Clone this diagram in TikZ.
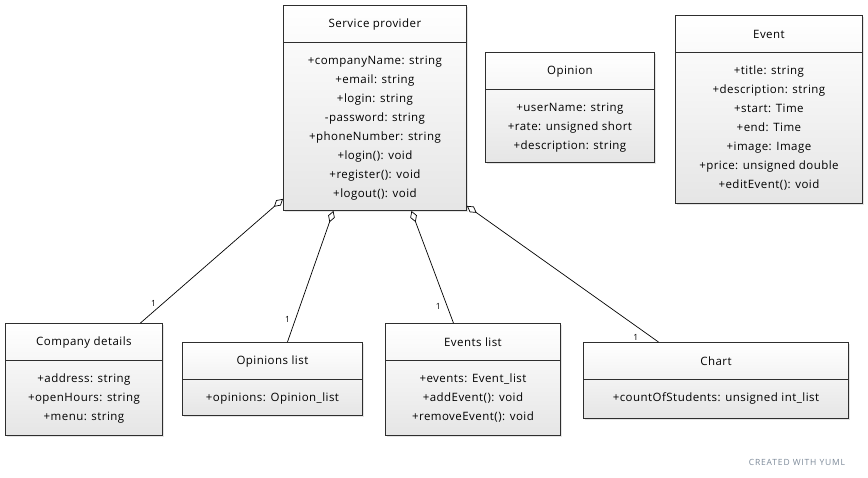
\documentclass[tikz,border=0pt]{standalone}
\usepackage{fontspec}
\setmainfont{Open Sans}
\usepackage{tikz}
\usetikzlibrary{arrows.meta, shadows, positioning, calc}
\definecolor{boxline}{HTML}{2E2E2E}
\definecolor{yumlgray}{HTML}{7D8A99}
\tikzset{
	classbox/.style = {draw = boxline, line width = 0.9pt, top color = white, bottom color = black!10, drop shadow = {opacity = 0.2, shadow xshift = 2pt, shadow yshift = -2pt}, anchor = north west, inner sep = 0pt},
	classtitle/.style = {font = \fontsize{11.5}{12}\selectfont\addfontfeature{LetterSpace = 4}, inner sep = 0pt},
	classbody/.style = {font = \fontsize{11.5}{19}\selectfont\addfontfeature{LetterSpace = 4}, align = center, inner sep = 0pt, anchor = north},
	classline/.style = {draw = boxline, line width = 0.9pt},
	aggr/.style = {{Diamond[open, length = 12pt, width = 7pt]}-, line width = 0.7pt},
	mult/.style = {font = \fontsize{8.5}{10}\selectfont, inner sep = 0pt}
}
\begin{document}
\begin{tikzpicture}[x = 1pt, y = -1pt]
		\useasboundingbox[fill = white] (0,0) rectangle (868,478);
		% service provider
		\node[classbox, minimum width = 183pt, minimum height = 205pt] (sp) at (283,5) {};
		\node[classtitle] (spTitle) at ([yshift = -19.5pt]sp.north) {Service provider};
		\draw[classline] ([yshift = -37pt]sp.north west) -- ([yshift = -37pt]sp.north east);
		\node[classbody] (spBody) at ([yshift = -50.5pt]sp.north) {+companyName: string\\+email: string\\+login: string\\-password: string\\+phoneNumber: string\\+login(): void\\+register(): void\\+logout(): void};
		% opinion
		\node[classbox, minimum width = 169pt, minimum height = 110pt] (op) at (485,52) {};
		\node[classtitle] (opTitle) at ([yshift = -19.5pt]op.north) {Opinion};
		\draw[classline] ([yshift = -37pt]op.north west) -- ([yshift = -37pt]op.north east);
		\node[classbody] (opBody) at ([yshift = -50.5pt]op.north) {+userName: string\\+rate: unsigned short\\+description: string};
		% event
		\node[classbox, minimum width = 187pt, minimum height = 188pt] (ev) at (675,15) {};
		\node[classtitle] (evTitle) at ([yshift = -19.5pt]ev.north) {Event};
		\draw[classline] ([yshift = -37pt]ev.north west) -- ([yshift = -37pt]ev.north east);
		\node[classbody] (evBody) at ([yshift = -50.5pt]ev.north) {+title: string\\+description: string\\+start: Time\\+end: Time\\+image: Image\\+price: unsigned double\\+editEvent(): void};
		% company details
		\node[classbox, minimum width = 157pt, minimum height = 112pt] (cd) at (5,323) {};
		\node[classtitle] (cdTitle) at ([yshift = -19.5pt]cd.north) {Company details};
		\draw[classline] ([yshift = -37pt]cd.north west) -- ([yshift = -37pt]cd.north east);
		\node[classbody] (cdBody) at ([yshift = -50.5pt]cd.north) {+address: string\\+openHours: string\\+menu: string};
		% opinions list
		\node[classbox, minimum width = 180pt, minimum height = 73pt] (ol) at (182,342) {};
		\node[classtitle] (olTitle) at ([yshift = -19.5pt]ol.north) {Opinions list};
		\draw[classline] ([yshift = -37pt]ol.north west) -- ([yshift = -37pt]ol.north east);
		\node[classbody] (olBody) at ([yshift = -50.5pt]ol.north) {+opinions: Opinion\_list};
		% events list
		\node[classbox, minimum width = 175pt, minimum height = 112pt] (el) at (385,323) {};
		\node[classtitle] (elTitle) at ([yshift = -19.5pt]el.north) {Events list};
		\draw[classline] ([yshift = -37pt]el.north west) -- ([yshift = -37pt]el.north east);
		\node[classbody] (elBody) at ([yshift = -50.5pt]el.north) {+events: Event\_list\\+addEvent(): void\\+removeEvent(): void};
		% chart
		\node[classbox, minimum width = 265pt, minimum height = 76pt] (ch) at (583,342) {};
		\node[classtitle] (chTitle) at ([yshift = -19.5pt]ch.north) {Chart};
		\draw[classline] ([yshift = -37pt]ch.north west) -- ([yshift = -37pt]ch.north east);
		\node[classbody] (chBody) at ([yshift = -50.5pt]ch.north) {+countOfStudents: unsigned int\_list};
		% aggregations
		\draw[aggr] ([yshift = 12pt]sp.south west) -- node[mult, pos = 0.84, left = 7pt] (cdMult) {1} ([xshift = 56.5pt]cd.north);
		\draw[aggr] ([xshift = -41.5pt]sp.south) -- node[mult, pos = 0.83, left = 5pt] (olMult) {1} ([xshift = 15pt]ol.north);
		\draw[aggr] ([xshift = 36.5pt]sp.south) -- node[mult, pos = 0.85, left = 6pt] (elMult) {1} ([xshift = -19.5pt]el.north);
		\draw[aggr] ([yshift = 5pt]sp.south east) -- node[mult, pos = 0.97, left = 14pt] (chMult) {1} ([xshift = -57.5pt]ch.north);
		\node[color = yumlgray, font = \fontsize{8.5}{9}\selectfont\addfontfeature{LetterSpace = 10}] (yuml) at (797,462) {CREATED WITH YUML};
	\end{tikzpicture}
\end{document}
